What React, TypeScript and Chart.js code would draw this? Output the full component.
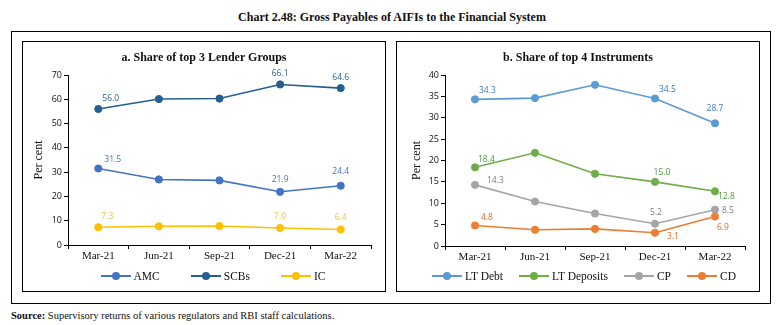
import React, { useEffect, useRef } from 'react';
import { Chart, registerables } from 'chart.js';
Chart.register(...registerables);

// ---------- data ----------
const categories = ['Mar-21', 'Jun-21', 'Sep-21', 'Dec-21', 'Mar-22'];

const amc = [31.5, 27.0, 26.6, 21.9, 24.4];
const scbs = [56.0, 60.1, 60.3, 66.1, 64.6];
const ic = [7.3, 7.7, 7.8, 7.0, 6.4];

const ltDebt = [34.3, 34.6, 37.7, 34.5, 28.7];
const ltDeposits = [18.4, 21.8, 16.9, 15.0, 12.8];
const cp = [14.3, 10.4, 7.6, 5.2, 8.5];
const cd = [4.8, 3.8, 4.0, 3.1, 6.9];

const leftAxis = { min: 0, max: 70, step: 10 };
const rightAxis = { min: 0, max: 40, step: 5 };

// ---------- label placement (style, not data) ----------
type Lbl = [number, number, CanvasTextAlign] | null;
const amcLabels: Lbl[] = [[6, -9, 'left'], null, null, [0, -12, 'center'], [0, -14, 'center']];
const scbsLabels: Lbl[] = [[4, -10, 'left'], null, null, [0, -11, 'center'], [0, -11, 'center']];
const icLabels: Lbl[] = [[3, -11, 'left'], null, null, [0, -11, 'center'], [0, -12, 'center']];
const ltDebtLabels: Lbl[] = [[4, -9, 'left'], null, null, [4, -9, 'left'], [0, -15, 'center']];
const ltDepLabels: Lbl[] = [[3, -8, 'left'], null, null, [7, -9, 'center'], [3, 5, 'left']];
const cpLabels: Lbl[] = [[12, -4, 'left'], null, null, [1, -11, 'center'], [7, 1, 'left']];
const cdLabels: Lbl[] = [[6, -8, 'left'], null, null, [12, 4, 'left'], [2, 11, 'left']];

const SERIF = '"Liberation Serif", "Times New Roman", serif';
const SANS = '"Open Sans", "Noto Sans", sans-serif';

const labelPlugin = {
  id: 'pointLabels',
  afterDatasetsDraw(chart: any) {
    const ctx = chart.ctx;
    chart.data.datasets.forEach((ds: any, i: number) => {
      const meta = chart.getDatasetMeta(i);
      const cfg: Lbl[] = ds.pointLabels || [];
      ctx.save();
      ctx.font = `8.5px ${SANS}`;
      ctx.fillStyle = ds.labelColor || ds.borderColor;
      ctx.textBaseline = 'middle';
      meta.data.forEach((el: any, j: number) => {
        const c = cfg[j];
        if (!c) return;
        ctx.textAlign = c[2];
        ctx.fillText(Number(ds.data[j]).toFixed(1), el.x + c[0], el.y + c[1]);
      });
      ctx.restore();
    });
  },
};

type Series = { label: string; data: number[]; color: string; labelColor?: string; labels: Lbl[] };

function Panel(props: {
  left: number;
  title: string;
  series: Series[];
  axis: { min: number; max: number; step: number };
  axisWidth: number;
  titlePad: number;
  bottomPad: number;
  legendGap: number;
  legendShift: number;
}) {
  const ref = useRef<HTMLCanvasElement>(null);
  useEffect(() => {
    const chart = new Chart(ref.current as HTMLCanvasElement, {
      type: 'line',
      data: {
        labels: categories,
        datasets: props.series.map((s) => ({
          label: s.label,
          data: s.data,
          borderColor: s.color,
          backgroundColor: s.color,
          pointBackgroundColor: s.color,
          pointBorderColor: s.color,
          pointRadius: 3.6,
          pointBorderWidth: 1,
          borderWidth: 1.6,
          tension: 0,
          pointLabels: s.labels,
          labelColor: s.labelColor,
        })) as any,
      },
      options: {
        responsive: false,
        animation: false,
        events: [],
        layout: { padding: { left: 0, right: 14, top: 33, bottom: props.bottomPad } },
        plugins: { legend: { display: false }, title: { display: false }, tooltip: { enabled: false } },
        scales: {
          x: {
            offset: true,
            grid: { display: true, offset: true, drawOnChartArea: false, drawTicks: true, tickLength: 4, color: '#000' },
            border: { display: true, color: '#000', width: 1 },
            ticks: { font: { family: SERIF, size: 11 }, color: '#111', padding: 1, maxRotation: 0 },
            afterFit: (scale: any) => {
              scale.height = 20;
            },
          },
          y: {
            min: props.axis.min,
            max: props.axis.max,
            grid: { display: true, drawOnChartArea: false, drawTicks: true, tickLength: 4, color: '#000' },
            border: { display: true, color: '#000', width: 1 },
            ticks: { stepSize: props.axis.step, font: { family: SANS, size: 9 }, color: '#111', padding: 2 },
            title: {
              display: true,
              text: 'Per cent',
              font: { family: SERIF, size: 12 },
              color: '#111',
              padding: { top: props.titlePad, bottom: 0 },
            },
            afterFit: (scale: any) => {
              scale.width = props.axisWidth;
            },
          },
        },
      },
      plugins: [labelPlugin],
    });
    return () => chart.destroy();
  }, []);

  return (
    <div
      style={{
        position: 'absolute',
        left: props.left,
        top: 41,
        width: 364,
        height: 251,
        border: '1px solid #000',
        boxSizing: 'border-box',
        background: '#fff',
      }}
    >
      <canvas ref={ref} width={362} height={249} style={{ position: 'absolute', left: 0, top: 0, display: 'block' }} />
      <div
        style={{
          position: 'absolute',
          top: 7,
          left: 0,
          width: '100%',
          textAlign: 'center',
          font: `bold 12px ${SERIF}`,
          lineHeight: '16px',
          color: '#111',
        }}
      >
        {props.title}
      </div>
      <div
        style={{
          position: 'absolute',
          top: 226,
          left: props.legendShift,
          width: '100%',
          height: 16,
          display: 'flex',
          justifyContent: 'center',
          alignItems: 'center',
          gap: props.legendGap,
          font: `11.5px ${SERIF}`,
          color: '#111',
        }}
      >
        {props.series.map((s) => (
          <div key={s.label} style={{ display: 'flex', alignItems: 'center', gap: 3 }}>
            <span style={{ position: 'relative', width: 30, height: 10, display: 'inline-block' }}>
              <span style={{ position: 'absolute', left: 0, top: 4, width: 30, height: 2, background: s.color }} />
              <span
                style={{
                  position: 'absolute',
                  left: 11,
                  top: 1,
                  width: 8,
                  height: 8,
                  borderRadius: '50%',
                  background: s.color,
                }}
              />
            </span>
            <span style={{ lineHeight: '16px', whiteSpace: 'nowrap' }}>{s.label}</span>
          </div>
        ))}
      </div>
    </div>
  );
}

export default function App() {
  const leftSeries: Series[] = [
    { label: 'AMC', data: amc, color: '#4472C4', labels: amcLabels },
    { label: 'SCBs', data: scbs, color: '#255E91', labels: scbsLabels },
    { label: 'IC', data: ic, color: '#FFC000', labelColor: '#F2C050', labels: icLabels },
  ];
  const rightSeries: Series[] = [
    { label: 'LT Debt', data: ltDebt, color: '#5B9BD5', labelColor: '#3F7CC0', labels: ltDebtLabels },
    { label: 'LT Deposits', data: ltDeposits, color: '#70AD47', labelColor: '#4E9A3A', labels: ltDepLabels },
    { label: 'CP', data: cp, color: '#A5A5A5', labelColor: '#7F7F7F', labels: cpLabels },
    { label: 'CD', data: cd, color: '#ED7D31', labelColor: '#D86A2A', labels: cdLabels },
  ];
  return (
    <div style={{ position: 'absolute', left: 0, top: 0, width: 784, height: 325, background: '#fff' }}>
      <div
        style={{
          position: 'absolute',
          top: 8,
          left: 0,
          width: 784,
          textAlign: 'center',
          font: `bold 12px ${SERIF}`,
          lineHeight: '18px',
          color: '#111',
        }}
      >
        Chart 2.48: Gross Payables of AIFIs to the Financial System
      </div>
      <div
        style={{
          position: 'absolute',
          left: 11,
          top: 31,
          width: 760,
          height: 273,
          border: '1px solid #000',
          boxSizing: 'border-box',
        }}
      />
      <Panel
        left={22}
        title="a. Share of top 3 Lender Groups"
        series={leftSeries}
        axis={leftAxis}
        axisWidth={45}
        titlePad={8.8}
        bottomPad={26}
        legendGap={31}
        legendShift={9}
      />
      <Panel
        left={396}
        title="b. Share of top 4 Instruments"
        series={rightSeries}
        axis={rightAxis}
        axisWidth={48}
        titlePad={12.5}
        bottomPad={25}
        legendGap={16}
        legendShift={6}
      />
      <div
        style={{
          position: 'absolute',
          left: 11,
          top: 308,
          font: `10.5px ${SERIF}`,
          lineHeight: '16px',
          color: '#111',
          whiteSpace: 'nowrap',
        }}
      >
        <b>Source:</b> Supervisory returns of various regulators and RBI staff calculations.
      </div>
    </div>
  );
}
